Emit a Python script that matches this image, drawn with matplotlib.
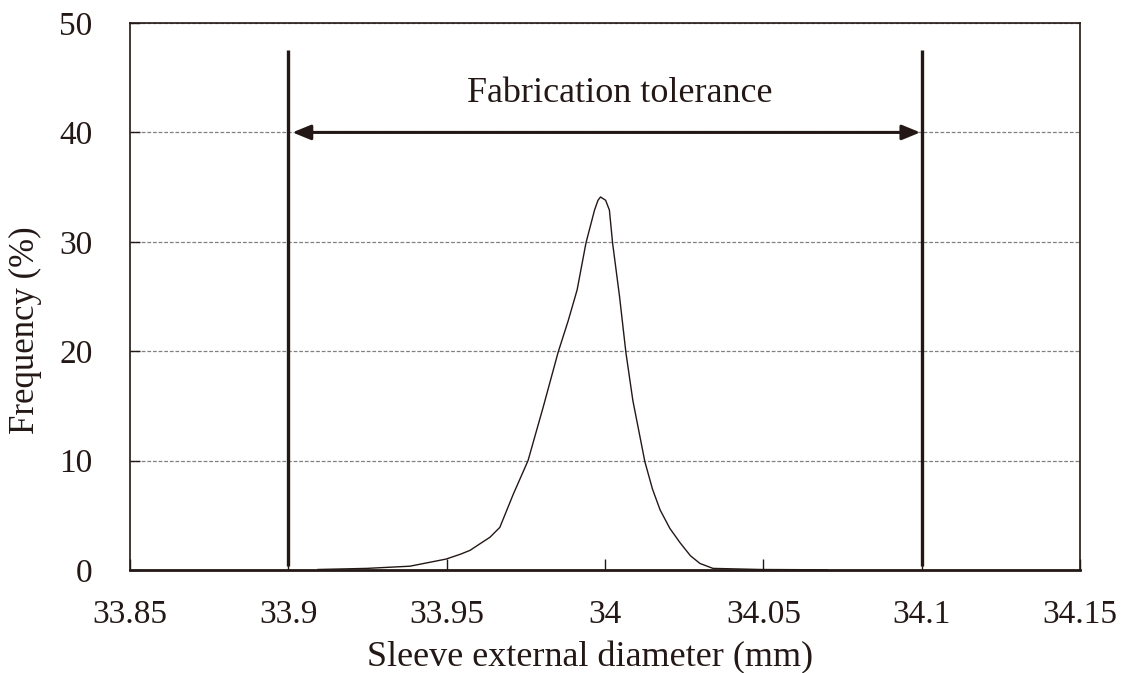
import matplotlib
matplotlib.use("Agg")
import matplotlib.pyplot as plt

diameter = [33.9094, 33.9248, 33.9384, 33.9498, 33.9544, 33.9574, 33.9600,
            33.9637, 33.9668, 33.9710, 33.9757, 33.9805, 33.9852, 33.9884,
            33.9912, 33.9940, 33.9967, 33.9978, 33.9986, 34.0002, 34.0014,
            34.0024, 34.0046, 34.0066, 34.0088, 34.0126, 34.0150, 34.0174,
            34.0205, 34.0237, 34.0270, 34.0300, 34.0341, 34.0490, 34.0701]
frequency = [0.05, 0.15, 0.35, 1.0, 1.45, 1.8, 2.3,
             3.0, 3.9, 6.9, 10.0, 14.9, 19.9, 22.8,
             25.6, 29.9, 32.9, 33.8, 34.1, 33.8, 32.9,
             29.9, 25.0, 19.9, 15.5, 9.9, 7.4, 5.5,
             3.8, 2.5, 1.3, 0.6, 0.15, 0.05, 0.02]

tolerance = [33.9, 34.1]
tol_label = "Fabrication tolerance"

xticks = [33.85, 33.9, 33.95, 34.0, 34.05, 34.1, 34.15]
xtick_labels = ["33.85", "33.9", "33.95", "34", "34.05", "34.1", "34.15"]
yticks = [0, 10, 20, 30, 40, 50]

INK = "#231815"

plt.rcParams["font.family"] = ["Liberation Serif", "DejaVu Serif"]

fig = plt.figure(figsize=(11.27, 6.73), dpi=100)
ax = fig.add_axes([0.1153, 0.153, 0.843, 0.8128])

ax.set_xlim(33.85, 34.15)
ax.set_ylim(0, 50)

# dashed gridlines
for y in yticks[1:]:
    ax.axhline(y, color="#808080", lw=0.9, ls=(0, (3, 1.5)), zorder=1)

ax.plot(diameter, frequency, color=INK, lw=1.0, zorder=3,
        solid_joinstyle="round")

# tolerance limits and arrow
ax.vlines(tolerance, 0.4, 47.5, color=INK, lw=2.4, zorder=4)
ax.annotate("", xy=(tolerance[1], 40), xytext=(tolerance[0], 40),
            arrowprops=dict(arrowstyle="<|-|>,head_length=1.1,head_width=0.45",
                            lw=2.2, color=INK, shrinkA=3, shrinkB=1),
            zorder=5)
ax.text(34.0047, 43.6, tol_label, ha="center", va="center",
        fontsize=26, color=INK)

ax.set_xticks(xticks)
ax.set_xticklabels(xtick_labels)
ax.set_yticks(yticks)
ax.tick_params(axis="x", direction="in", length=8, width=1, pad=21,
               labelsize=24, colors=INK)
ax.tick_params(axis="y", direction="in", length=7, width=1, pad=27,
               labelsize=24, colors=INK)

for side in ["left", "top", "right"]:
    ax.spines[side].set_linewidth(1.2)
    ax.spines[side].set_color(INK)
ax.spines["bottom"].set_linewidth(2.0)
ax.spines["bottom"].set_color(INK)

ax.set_xlabel("Sleeve external diameter (mm)", fontsize=26, color=INK)
ax.set_ylabel("Frequency (%)", fontsize=25, color=INK)
ax.xaxis.set_label_coords(0.484, -0.13)
ax.yaxis.set_label_coords(-0.093, 0.439)

fig.savefig("out.png", dpi=100)
